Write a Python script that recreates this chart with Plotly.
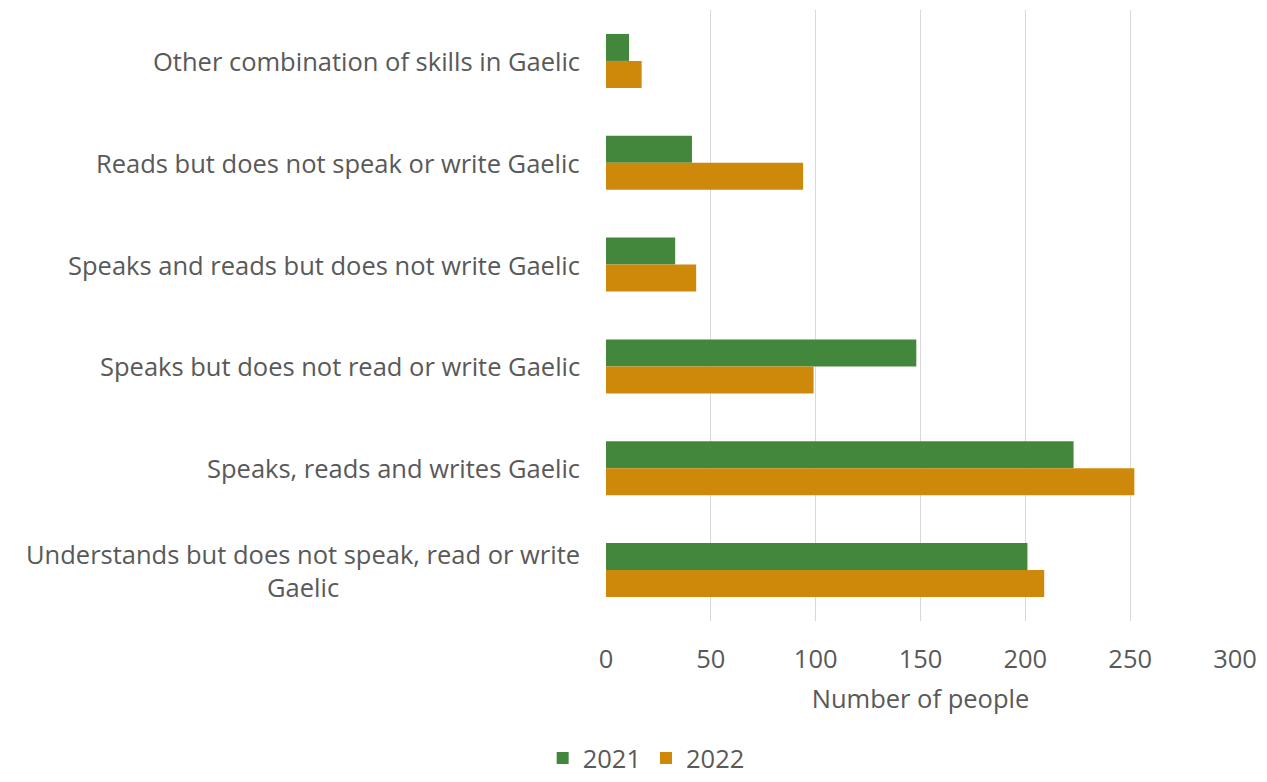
import plotly.graph_objects as go

# Gaelic language skills, listed top to bottom as displayed
categories = [
    "Other combination of skills in Gaelic",
    "Reads but does not speak or write Gaelic",
    "Speaks and reads but does not write Gaelic",
    "Speaks but does not read or write Gaelic",
    "Speaks, reads and writes Gaelic",
    "Understands but does not speak, read or write<br>Gaelic",
]
values_2021 = [11, 41, 33, 148, 223, 201]
values_2022 = [17, 94, 43, 99, 252, 209]
x_ticks = [0, 50, 100, 150, 200, 250, 300]

FONT = "Open Sans"
SIZE = 25.5
TEXT = "#595959"

fig = go.Figure()
fig.add_trace(go.Bar(y=categories, x=values_2021, name="2021", orientation="h",
                     marker=dict(color="#43873d", line=dict(width=0))))
fig.add_trace(go.Bar(y=categories, x=values_2022, name="2022", orientation="h",
                     marker=dict(color="#ce890b", line=dict(width=0))))

# Category labels as centred multi-line annotations to the left of the axis
for cat in categories:
    fig.add_annotation(x=0, xref="paper", y=cat, yref="y", text=cat,
                       showarrow=False, xanchor="right", align="center",
                       xshift=-24, font=dict(family=FONT, size=SIZE, color=TEXT))

fig.update_layout(
    width=1267, height=782,
    margin=dict(l=606, r=32, t=10, b=161),
    paper_bgcolor="white", plot_bgcolor="white",
    barmode="group", bargap=0.47, bargroupgap=0,
    font=dict(family=FONT, size=SIZE, color=TEXT),
    xaxis=dict(range=[0, 300], tickvals=x_ticks, showgrid=True,
               gridcolor="#d9d9d9", gridwidth=1, zeroline=False,
               showline=False, ticks="", ticklabelstandoff=20,
               tickfont=dict(family=FONT, size=SIZE, color=TEXT),
               title=dict(text="Number of people", standoff=16,
                          font=dict(family=FONT, size=SIZE, color=TEXT))),
    yaxis=dict(autorange="reversed", showticklabels=False, showgrid=False,
               zeroline=False, showline=False, ticks=""),
    legend=dict(orientation="h", x=0.51, xref="container", xanchor="center",
                y=-0.004, yref="container", yanchor="bottom",
                font=dict(family=FONT, size=SIZE, color=TEXT),
                itemwidth=30, tracegroupgap=0),
    showlegend=True,
)

fig.write_html("out.html")
